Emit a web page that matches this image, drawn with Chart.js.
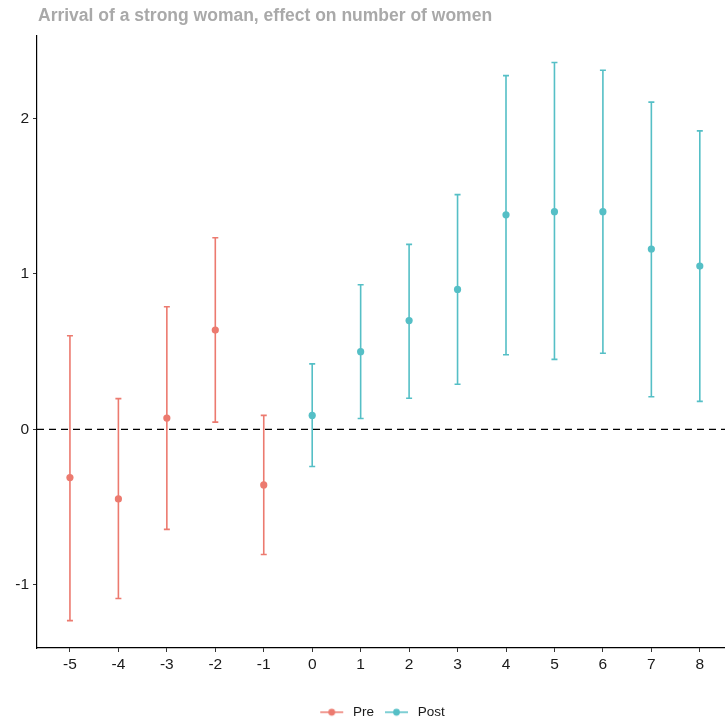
<!DOCTYPE html>
<html>
<head>
<meta charset="utf-8">
<script src="https://cdn.jsdelivr.net/npm/chart.js@4"></script>
<style>
  html, body { margin: 0; padding: 0; background: #fff; overflow: hidden; }
  #wrap { width: 725px; height: 723px; }
</style>
</head>
<body>
<div id="wrap"><canvas id="chart"></canvas></div>
<script>
const titleText = 'Arrival of a strong woman, effect on number of women';
const categories = [-5, -4, -3, -2, -1, 0, 1, 2, 3, 4, 5, 6, 7, 8];
const yTicks = [-1, 0, 1, 2];

const preX = [-5, -4, -3, -2, -1];
const preEst = [-0.31, -0.447, 0.073, 0.639, -0.357];
const preLow = [-1.23, -1.088, -0.643, 0.047, -0.805];
const preHigh = [0.602, 0.198, 0.789, 1.232, 0.09];

const postX = [0, 1, 2, 3, 4, 5, 6, 7, 8];
const postEst = [0.09, 0.50, 0.70, 0.90, 1.38, 1.40, 1.40, 1.16, 1.05];
const postLow = [-0.239, 0.07, 0.20, 0.29, 0.48, 0.45, 0.49, 0.21, 0.18];
const postHigh = [0.421, 0.93, 1.19, 1.51, 2.275, 2.36, 2.31, 2.105, 1.92];

const preColor = '#EC7A6F';
const postColor = '#55BFC6';
const font = '"Liberation Sans", Arial, Helvetica, sans-serif';

function toPoints(xs, est, low, high) {
    return xs.map((x, i) => ({ x: x, y: est[i], low: low[i], high: high[i] }));
}

// legend key: short line with a dot in the middle
function legendKey(color) {
    const c = document.createElement('canvas');
    c.width = 29; c.height = 10;
    const g = c.getContext('2d');
    g.strokeStyle = color; g.lineWidth = 1.5;
    g.beginPath(); g.moveTo(3, 5); g.lineTo(26, 5); g.stroke();
    g.fillStyle = color;
    g.beginPath(); g.arc(14.5, 5, 3.4, 0, Math.PI * 2); g.fill();
    return c;
}

const errorBars = {
    id: 'errorBars',
    beforeDatasetsDraw(chart) {
        const { ctx, chartArea, scales: { x, y } } = chart;
        // zero reference line
        const y0 = y.getPixelForValue(0);
        ctx.save();
        ctx.strokeStyle = '#000';
        ctx.lineWidth = 1.4;
        ctx.setLineDash([7, 5]);
        ctx.beginPath();
        ctx.moveTo(chartArea.left, y0);
        ctx.lineTo(chartArea.right, y0);
        ctx.stroke();
        ctx.setLineDash([]);
        chart.data.datasets.forEach(ds => {
            ctx.strokeStyle = ds.borderColor;
            ctx.lineWidth = 1.6;
            ds.data.forEach(p => {
                const px = x.getPixelForValue(p.x);
                const top = y.getPixelForValue(p.high);
                const bot = y.getPixelForValue(p.low);
                ctx.beginPath();
                ctx.moveTo(px, top); ctx.lineTo(px, bot);
                ctx.moveTo(px - 3, top); ctx.lineTo(px + 3, top);
                ctx.moveTo(px - 3, bot); ctx.lineTo(px + 3, bot);
                ctx.stroke();
            });
        });
        ctx.restore();
    },
    afterDraw(chart) {
        const ctx = chart.ctx;
        ctx.save();
        ctx.font = 'bold 17.5px ' + font;
        ctx.fillStyle = '#A9A9A9';
        ctx.textBaseline = 'middle';
        ctx.fillText(titleText, 38, 16);
        ctx.restore();
    }
};

new Chart(document.getElementById('chart'), {
    type: 'scatter',
    data: {
        datasets: [
            {
                label: 'Pre',
                data: toPoints(preX, preEst, preLow, preHigh),
                backgroundColor: preColor,
                borderColor: preColor,
                pointRadius: 3.6,
                pointBorderWidth: 0
            },
            {
                label: 'Post',
                data: toPoints(postX, postEst, postLow, postHigh),
                backgroundColor: postColor,
                borderColor: postColor,
                pointRadius: 3.6,
                pointBorderWidth: 0
            }
        ]
    },
    options: {
        responsive: true,
        maintainAspectRatio: false,
        animation: false,
        layout: { autoPadding: false, padding: { top: 36, left: 0, right: 0, bottom: -6 } },
        scales: {
            x: {
                type: 'linear',
                min: -5.68,
                max: 8.52,
                afterBuildTicks: scale => { scale.ticks = categories.map(v => ({ value: v })); },
                afterFit: scale => { scale.height = 49.5; },
                ticks: {
                    color: '#1a1a1a',
                    font: { family: font, size: 15.5 },
                    padding: 3,
                    callback: v => String(v)
                },
                grid: { drawOnChartArea: false, drawTicks: true, tickLength: 4, color: '#333' },
                border: { display: true, color: '#000', width: 1.2 }
            },
            y: {
                min: -1.406,
                max: 2.53,
                afterBuildTicks: scale => { scale.ticks = yTicks.map(v => ({ value: v })); },
                afterFit: scale => { scale.width = 37; },
                ticks: {
                    color: '#1a1a1a',
                    font: { family: font, size: 15.5 },
                    padding: 4,
                    callback: v => String(v)
                },
                grid: { drawOnChartArea: false, drawTicks: true, tickLength: 4, color: '#333' },
                border: { display: true, color: '#000', width: 1.2 }
            }
        },
        plugins: {
            title: { display: false },
            tooltip: { enabled: false },
            legend: {
                position: 'bottom',
                fullSize: false,
                labels: {
                    usePointStyle: true,
                    pointStyleWidth: 29,
                    color: '#1a1a1a',
                    font: { family: font, size: 13.5 },
                    padding: 8,
                    generateLabels: chart => {
                        const items = Chart.defaults.plugins.legend.labels.generateLabels(chart);
                        items.forEach(it => { it.pointStyle = legendKey(chart.data.datasets[it.datasetIndex].borderColor); });
                        return items;
                    }
                }
            }
        }
    },
    plugins: [errorBars]
});
</script>
</body>
</html>
